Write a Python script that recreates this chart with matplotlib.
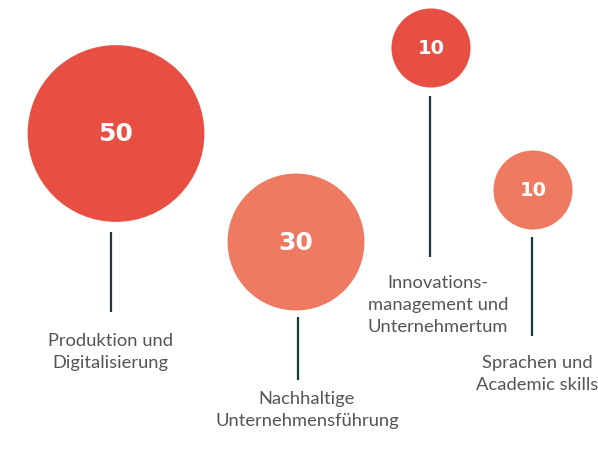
import matplotlib
matplotlib.use("Agg")
import matplotlib.pyplot as plt
from matplotlib.patches import Circle
import numpy as np

# data
categories = ["Produktion und\nDigitalisierung",
              "Nachhaltige\nUnternehmensführung",
              "Innovations-\nmanagement und\nUnternehmertum",
              "Sprachen und\nAcademic skills"]
values = [50, 30, 10, 10]

# layout (pixel coordinates)
centers = [(116, 134.5), (296, 243), (431, 49), (533, 191)]
line_x = [111, 298, 430, 532]
line_y = [(233, 313), (318, 381), (97, 258), (238, 337)]
label_pos = [(110, 352), (307, 410), (438, 305), (537, 374)]
colors = ["#E84F43", "#EE7A62", "#E84F43", "#EE7A62"]
num_sizes = [18, 18, 14, 14]
num_weights = ["semibold", "semibold", "bold", "bold"]
line_color = "#1E3B3B"
label_color = "#555555"

W, H = 598, 456
fig = plt.figure(figsize=(W / 100, H / 100), dpi=100)
ax = fig.add_axes([0, 0, 1, 1])
ax.set_xlim(0, W)
ax.set_ylim(H, 0)
ax.axis("off")

scale = 12.5  # radius = scale * sqrt(value)
for cat, v, (cx, cy), lx, (y0, y1), (tx, ty), c, fs, fw in zip(
        categories, values, centers, line_x, line_y, label_pos, colors,
        num_sizes, num_weights):
    r = scale * np.sqrt(v)
    ax.add_patch(Circle((cx, cy), r, color=c, lw=0))
    ax.text(cx, cy, str(v), color="white", fontsize=fs, fontweight=fw,
            ha="center", va="center", family="DejaVu Sans")
    ax.plot([lx, lx], [y0, y1], color=line_color, lw=1.6, solid_capstyle="butt")
    ax.text(tx, ty, cat, color=label_color, fontsize=13.2, ha="center", va="center",
            family="Lato", linespacing=1.45)

fig.savefig("out.png", dpi=100)
